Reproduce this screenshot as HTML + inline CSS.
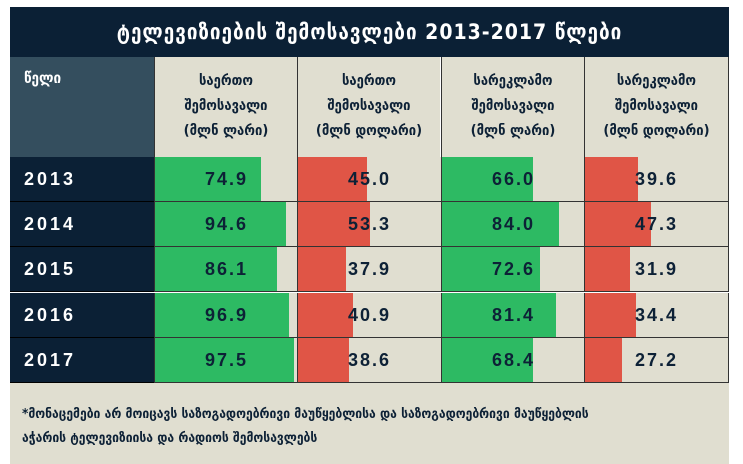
<!DOCTYPE html>
<html><head><meta charset="utf-8"><style>
*{margin:0;padding:0;box-sizing:border-box}
body{width:743px;height:464px;background:#fff;position:relative;overflow:hidden;font-family:"DejaVu Sans Condensed","DejaVu Sans","Liberation Sans",sans-serif}
.a{position:absolute}
.title{left:10px;top:7px;width:719px;height:50px;background:#0b2035;color:#fff;font-size:21px;font-weight:bold;text-align:center;line-height:50px;letter-spacing:1px}
.hy{left:10px;top:57px;width:144px;height:100px;background:#344e5e;color:#fff;font-size:15px;font-weight:bold;padding:12px 14px}
.hc{top:57px;height:100px;width:143px;background:#e0ded0;color:#0d2136;font-size:14.5px;font-weight:bold;text-align:center;line-height:25px;padding-top:12px;border-left:1px solid #333}
.yr{left:10px;width:144px;height:45px;background:#0b2035;color:#fff;font-family:"Liberation Sans",sans-serif;font-weight:bold;font-size:18px;letter-spacing:3px;line-height:45px;padding-left:14px;border-bottom:1px solid #000}
.c{height:45px;background:#e0ded0;border-left:1px solid #333;border-bottom:1px solid #333;width:144px}
.bar{position:absolute;left:0;top:0;bottom:0}
.v{position:absolute;left:0;right:0;top:0;line-height:45px;text-align:center;font-family:"Liberation Sans",sans-serif;font-weight:bold;font-size:18px;letter-spacing:2px;color:#0d2136}
.g{background:#2dba63}.r{background:#e05546}
.foot{left:10px;top:383px;width:719px;height:81px;background:#e0ded0;color:#0d2136;font-size:13.5px;font-weight:bold;padding:19px 12px;line-height:24px}
</style></head><body>
<div class="a title">ტელევიზიების შემოსავლები 2013-2017 წლები</div>
<div class="a hy">წელი</div>
<div class="a hc" style="left:154px">საერთო<br>შემოსავალი<br>(მლნ ლარი)</div>
<div class="a hc" style="left:297px">საერთო<br>შემოსავალი<br>(მლნ დოლარი)</div>
<div class="a hc" style="left:441px">სარეკლამო<br>შემოსავალი<br>(მლნ ლარი)</div>
<div class="a hc" style="left:584px;width:145px;border-right:1px solid #333">სარეკლამო<br>შემოსავალი<br>(მლნ დოლარი)</div>

<div class="a yr" style="top:157px">2013</div>
<div class="a yr" style="top:202px">2014</div>
<div class="a yr" style="top:247px">2015</div>
<div class="a yr" style="top:293px">2016</div>
<div class="a yr" style="top:338px">2017</div>

<div class="a c" style="left:154px;top:157px"><div class="bar g" style="width:106px"></div><div class="v">74.9</div></div>
<div class="a c" style="left:297px;top:157px"><div class="bar r" style="width:69px"></div><div class="v">45.0</div></div>
<div class="a c" style="left:441px;top:157px"><div class="bar g" style="width:91px"></div><div class="v">66.0</div></div>
<div class="a c" style="left:584px;top:157px;width:145px;border-right:1px solid #333"><div class="bar r" style="width:53px"></div><div class="v">39.6</div></div>

<div class="a c" style="left:154px;top:202px"><div class="bar g" style="width:131px"></div><div class="v">94.6</div></div>
<div class="a c" style="left:297px;top:202px"><div class="bar r" style="width:72px"></div><div class="v">53.3</div></div>
<div class="a c" style="left:441px;top:202px"><div class="bar g" style="width:117px"></div><div class="v">84.0</div></div>
<div class="a c" style="left:584px;top:202px;width:145px;border-right:1px solid #333"><div class="bar r" style="width:66px"></div><div class="v">47.3</div></div>

<div class="a c" style="left:154px;top:247px"><div class="bar g" style="width:122px"></div><div class="v">86.1</div></div>
<div class="a c" style="left:297px;top:247px"><div class="bar r" style="width:48px"></div><div class="v">37.9</div></div>
<div class="a c" style="left:441px;top:247px"><div class="bar g" style="width:98px"></div><div class="v">72.6</div></div>
<div class="a c" style="left:584px;top:247px;width:145px;border-right:1px solid #333"><div class="bar r" style="width:45px"></div><div class="v">31.9</div></div>

<div class="a c" style="left:154px;top:293px"><div class="bar g" style="width:134px"></div><div class="v">96.9</div></div>
<div class="a c" style="left:297px;top:293px"><div class="bar r" style="width:55px"></div><div class="v">40.9</div></div>
<div class="a c" style="left:441px;top:293px"><div class="bar g" style="width:114px"></div><div class="v">81.4</div></div>
<div class="a c" style="left:584px;top:293px;width:145px;border-right:1px solid #333"><div class="bar r" style="width:51px"></div><div class="v">34.4</div></div>

<div class="a c" style="left:154px;top:338px"><div class="bar g" style="width:139px"></div><div class="v">97.5</div></div>
<div class="a c" style="left:297px;top:338px"><div class="bar r" style="width:51px"></div><div class="v">38.6</div></div>
<div class="a c" style="left:441px;top:338px"><div class="bar g" style="width:91px"></div><div class="v">68.4</div></div>
<div class="a c" style="left:584px;top:338px;width:145px;border-right:1px solid #333"><div class="bar r" style="width:37px"></div><div class="v">27.2</div></div>

<div class="a foot">*მონაცემები არ მოიცავს საზოგადოებრივი მაუწყებლისა და საზოგადოებრივი მაუწყებლის<br>აჭარის ტელევიზიისა და რადიოს შემოსავლებს</div>
</body></html>
